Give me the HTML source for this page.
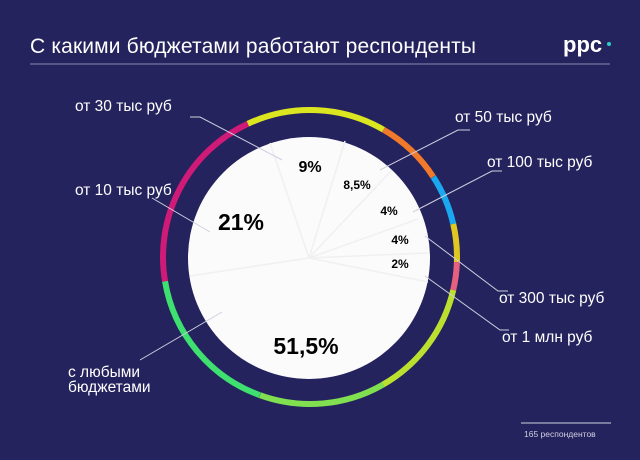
<!DOCTYPE html><html><head><meta charset="utf-8"><style>
body{margin:0;width:640px;height:460px;background:#25235d;overflow:hidden;font-family:"Liberation Sans",sans-serif;color:#fff}
</style></head><body>
<svg width="640" height="460" style="position:absolute;left:0;top:0">
<text x="30" y="53" font-size="21" fill="#fff" font-family="Liberation Sans" textLength="446">С какими бюджетами работают респонденты</text>
<text x="563" y="52" font-size="22" font-weight="bold" fill="#fff">ppc</text>
<circle cx="609" cy="44" r="2" fill="#2ad0c8"/>
<line x1="30" y1="64" x2="610" y2="64" stroke="#8a8aae" stroke-width="1"/>
<g fill="none" stroke-width="6">
<circle cx="310" cy="257" r="147" stroke="#d01a78" stroke-dasharray="192.4 924" transform="rotate(170 310 257)"/>
<circle cx="310" cy="257" r="147" stroke="#dce620" stroke-dasharray="141 924" transform="rotate(245 310 257)"/>
<circle cx="310" cy="257" r="147" stroke="#f07a2a" stroke-dasharray="69 924" transform="rotate(300 310 257)"/>
<circle cx="310" cy="257" r="147" stroke="#1aa8f0" stroke-dasharray="51.3 924" transform="rotate(327 310 257)"/>
<circle cx="310" cy="257" r="147" stroke="#e0c820" stroke-dasharray="38.5 924" transform="rotate(347 310 257)"/>
<circle cx="310" cy="257" r="147" stroke="#e86080" stroke-dasharray="28.2 924" transform="rotate(2 310 257)"/>
<circle cx="310" cy="257" r="147" stroke="#bde030" stroke-dasharray="121 924" transform="rotate(13 310 257)"/>
<circle cx="310" cy="257" r="147" stroke="#80e050" stroke-dasharray="128 924" transform="rotate(60 310 257)"/>
<circle cx="310" cy="257" r="147" stroke="#3ee070" stroke-dasharray="155 924" transform="rotate(110 310 257)"/>
</g>
<circle cx="309" cy="258" r="121" fill="#fbfbfb"/>
<g stroke="#f0f0f0" stroke-width="1.5">
<line x1="309" y1="258" x2="190" y2="276"/>
<line x1="309" y1="258" x2="270" y2="143"/>
<line x1="309" y1="258" x2="345" y2="141"/>
<line x1="309" y1="258" x2="392" y2="170"/>
<line x1="309" y1="258" x2="418" y2="219"/>
<line x1="309" y1="258" x2="428" y2="253"/>
<line x1="309" y1="258" x2="428" y2="282"/>
</g>
<g font-weight="bold" fill="#000" text-anchor="middle">
<text x="310" y="172" font-size="16">9%</text>
<text x="357" y="189" font-size="12">8,5%</text>
<text x="389" y="215" font-size="12">4%</text>
<text x="400" y="244" font-size="12">4%</text>
<text x="400" y="268" font-size="12">2%</text>
<text x="241" y="230" font-size="23">21%</text>
<text x="306" y="354" font-size="23">51,5%</text>
</g>
<g stroke="#cfcfe0" stroke-width="1" fill="none">
<polyline points="190,117 200,117 282,160"/>
<polyline points="152,198 210,232"/>
<polyline points="140,360 222,312"/>
<polyline points="470,130 458,130 380,170"/>
<polyline points="502,171 492,171 413,212"/>
<polyline points="508,291 498,291 425,236"/>
<polyline points="509,330 500,330 425,276"/>
</g>
<g font-size="15.5" fill="#fff">
<text x="75" y="111">от 30 тыс руб</text>
<text x="75" y="195">от 10 тыс руб</text>
<text x="68" y="377">с любыми</text>
<text x="68" y="392">бюджетами</text>
<text x="455" y="122">от 50 тыс руб</text>
<text x="487" y="167">от 100 тыс руб</text>
<text x="499" y="303">от 300 тыс руб</text>
<text x="502" y="342">от 1 млн руб</text>
</g>
<line x1="521" y1="423" x2="611" y2="423" stroke="#cfcfe0" stroke-width="1"/>
<text x="524" y="437" font-size="8.5" fill="#cfcfe0">165 респондентов</text>
</svg>
</body></html>
